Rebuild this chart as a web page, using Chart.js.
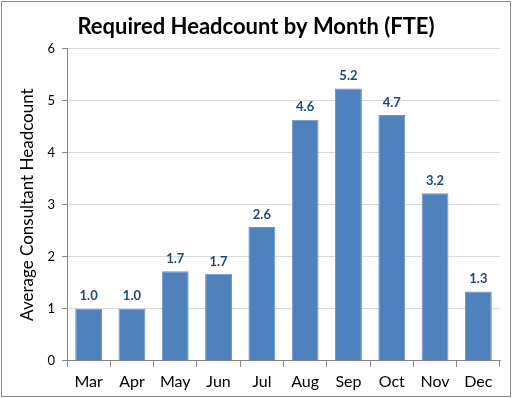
<!DOCTYPE html>
<html>
<head>
<meta charset="utf-8">
<script src="https://cdn.jsdelivr.net/npm/chart.js@4"></script>
<style>
  body { margin: 0; background: #fff; }
  #wrap { width: 512px; height: 398px; }
</style>
</head>
<body>
<div id="wrap"><canvas id="myChart" width="512" height="398"></canvas></div>
<script>
const months = ['Mar', 'Apr', 'May', 'Jun', 'Jul', 'Aug', 'Sep', 'Oct', 'Nov', 'Dec'];
const headcount = [1.0, 1.0, 1.72, 1.67, 2.57, 4.63, 5.23, 4.72, 3.22, 1.33];
const yMin = 0;
const yMax = 6;

const fontName = 'Lato, "Open Sans", sans-serif';

// labels over each bar, one decimal like the original
const barLabels = {
  id: 'barLabels',
  afterDatasetsDraw(chart) {
    const ctx = chart.ctx;
    const meta = chart.getDatasetMeta(0);
    ctx.save();
    ctx.font = 'bold 13px ' + fontName;
    ctx.fillStyle = '#1F497D';
    ctx.textAlign = 'center';
    ctx.textBaseline = 'bottom';
    meta.data.forEach((bar, i) => {
      ctx.fillText(headcount[i].toFixed(1), bar.x, bar.y - 6);
    });
    ctx.restore();
  }
};

const frame = {
  id: 'frame',
  afterDraw(chart) {
    const ctx = chart.ctx;
    ctx.save();
    ctx.strokeStyle = '#8c8c8c';
    ctx.lineWidth = 1;
    ctx.strokeRect(1.5, 1.5, chart.width - 3, chart.height - 3);
    ctx.restore();
  }
};

const ctx = document.getElementById('myChart');

new Chart(ctx, {
  type: 'bar',
  data: {
    labels: months,
    datasets: [{
      data: headcount,
      backgroundColor: '#4F81BD',
      borderColor: '#6b95c8',
      borderWidth: 1,
      categoryPercentage: 0.62,
      barPercentage: 1
    }]
  },
  options: {
    responsive: false,
    animation: false,
    layout: { padding: { left: 12, right: 12, top: 12, bottom: 2 } },
    plugins: {
      legend: { display: false },
      tooltip: { enabled: false },
      title: {
        display: true,
        text: 'Required Headcount by Month (FTE)',
        color: '#000',
        font: { family: fontName, size: 22, weight: 'bold' },
        padding: { top: 2, bottom: 8 }
      }
    },
    scales: {
      x: {
        grid: {
          offset: true,
          drawOnChartArea: false,
          tickLength: 6,
          color: '#868686'
        },
        border: { color: '#868686' },
        ticks: {
          color: '#000',
          font: { family: fontName, size: 16 },
          padding: 5
        }
      },
      y: {
        min: yMin,
        max: yMax,
        afterFit(scale) { scale.width = 55; },
        grid: {
          color: '#d9d9d9',
          tickLength: 5,
          tickColor: '#868686'
        },
        border: { color: '#868686' },
        ticks: {
          stepSize: 1,
          color: '#000',
          font: { family: fontName, size: 13 },
          padding: 7
        },
        title: {
          display: true,
          text: 'Average Consultant Headcount',
          color: '#000',
          font: { family: fontName, size: 17 },
          padding: 5
        }
      }
    }
  },
  plugins: [barLabels, frame]
});
</script>
</body>
</html>
